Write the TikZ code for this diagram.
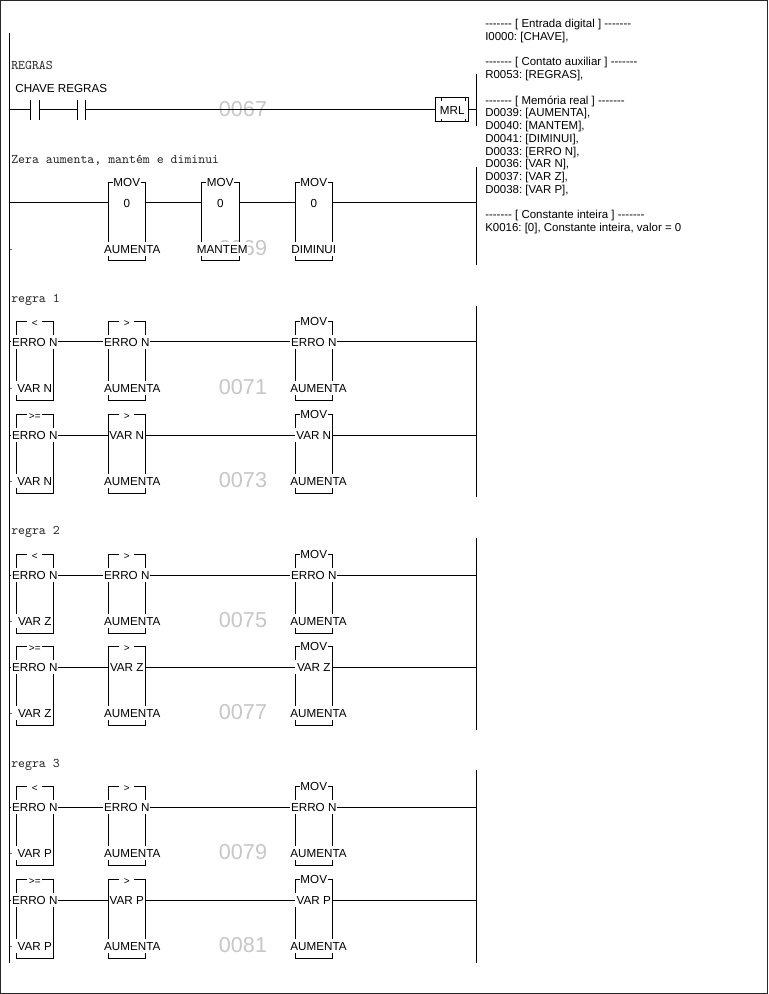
\documentclass[tikz,border=0pt]{standalone}
\usepackage{fontspec}
\setmainfont{Liberation Sans}
\newfontfamily\legendfont{Liberation Sans}
\newfontfamily\ladfont{Latin Modern Mono}
\tikzset{
  x=0.75pt,y=-0.75pt,
  wire/.style={draw=black,line width=0.75pt},
  sidebox/.style={draw=black,line width=0.75pt},
  ladlabel/.style={font=\fontsize{8.75pt}{10pt}\selectfont,inner sep=0pt,text height=8.4pt,text depth=1.2pt},
  vallabel/.style={ladlabel,fill=white,inner xsep=0.4pt,minimum width=27.75pt,minimum height=10.5pt},
  plainval/.style={ladlabel,inner xsep=0pt,minimum width=27.75pt},
  lowlabel/.style={ladlabel,fill=white,inner xsep=0.4pt,minimum height=11pt},
  lowplain/.style={ladlabel,fill=white,inner xsep=0pt,minimum height=11pt},
  cmplabel/.style={font=\fontsize{7.5pt}{8pt}\selectfont,fill=white,inner sep=0pt,minimum width=11.5pt,minimum height=5pt,yshift=-1.6pt},
  movlabel/.style={ladlabel,fill=white,inner xsep=0.4pt,minimum height=8pt,yshift=0.4pt},
  comment/.style={font=\ladfont\fontsize{9.9pt}{11pt}\selectfont,inner sep=0pt,anchor=west,text=black!85,text height=6.5pt,text depth=2pt},
  ghost/.style={font=\fontsize{16.2pt}{18pt}\selectfont,text=black!22,inner sep=0pt},
  legend/.style={font=\legendfont\fontsize{8.6pt}{9.55pt}\selectfont\frenchspacing,inner sep=0pt,anchor=north west,align=left}
}
% #1 name, #2 left x, #3 wire y, #4 title, #5 title style, #6 value, #7 value style, #8 lower label, #9 lower label offset
\newcommand{\ladbox}[9]{%
  \pgfmathsetmacro{\xr}{#2+37.5}
  \pgfmathsetmacro{\xc}{#2+18.75}
  \pgfmathsetmacro{\xl}{#2+18.75+#9}
  \draw[sidebox] (#2,#3-20.5) rectangle (\xr,#3+58);
  \node[#5] (#1t) at (\xc,#3-20.5) {#4};
  \node[#7] (#1v) at (\xc,#3) {#6};
  \node[lowlabel] (#1l) at (\xl,#3+46) {#8};
}
% one rung: id, wire y, comparison, first value, lower label, second value, its style, third value, number
\newcommand{\ladrung}[9]{%
  \coordinate (r#1a) at (9.5,#2);
  \coordinate (r#1b) at (476,#2);
  \coordinate (r#1t) at (9.5,#2+46);
  \coordinate (r#1u) at (12,#2+46);
  \draw[wire,line width=0.5pt,black!60] (r#1t) -- (r#1u);
  \draw[sidebox] (16,#2-20.5) rectangle (53.5,#2+58);
  \node[cmplabel] (r#1xt) at (34.75,#2-20.5) {#3};
  \node[vallabel] (r#1xv) at (34.75,#2) {#4};
  \fill[white] (15,#2+39) rectangle (17,#2+53);
  \node[lowplain] (r#1xl) at (34.75,#2+46) {#5};
  \ladbox{r#1y}{108}{#2}{>}{cmplabel}{#6}{#7}{AUMENTA}{5.5}
  \ladbox{r#1z}{295}{#2}{MOV}{movlabel}{#8}{vallabel}{AUMENTA}{4.75}
  \draw[wire] (r#1a) -- (r#1xv);
  \draw[wire] (r#1xv) -- (r#1yv);
  \draw[wire] (r#1yv) -- (r#1zv);
  \draw[wire] (r#1zv) -- (r#1b);
  \node[ghost] (g#1) at (243,#2+45) {#9};
}
\begin{document}
\begin{tikzpicture}
\useasboundingbox (0,0) rectangle (768,994);
\fill[white] (0,0) rectangle (768,994);
% page frame
\coordinate (pa) at (0.5,0.5);
\coordinate (pb) at (767.5,993.5);
\draw[line width=1pt,black!85] (pa) rectangle (pb);
% ghost numbers below everything else
\node[ghost] (g67) at (243,109) {0067};
\node[ghost] (g69) at (243,248) {0069};
% rails
\coordinate (la) at (9.5,33);
\coordinate (lb) at (9.5,963);
\draw[wire] (la) -- (lb);
\foreach \ya/\yb in {74/126,167/265,306/497,538/730,770/963}{
  \draw[wire] (476,\ya) -- (476,\yb);
}
% comments
\node[comment] (c1) at (11,67) {REGRAS};
\node[comment] (c2) at (11,160.5) {Zera aumenta, mantém e diminui};
\node[comment] (c3) at (11,299.5) {regra 1};
\node[comment] (c4) at (11,531.5) {regra 2};
\node[comment] (c5) at (11,764.5) {regra 3};
% rung 0067
\node[ladlabel] (chave) at (35,88) {CHAVE};
\node[ladlabel] (regras) at (82.5,88) {REGRAS};
\coordinate (w0a) at (9.5,110);
\coordinate (w0b) at (476,110);
\coordinate (k1a) at (30,110);
\coordinate (k1b) at (39,110);
\coordinate (k2a) at (77,110);
\coordinate (k2b) at (85,110);
\draw[wire] (30,100) -- (30,120);
\draw[wire] (39,100) -- (39,120);
\draw[wire] (77,100) -- (77,120);
\draw[wire] (85,100) -- (85,120);
\node[draw=black,line width=0.75pt,minimum width=25pt,minimum height=18pt,inner sep=0pt,font=\fontsize{8.75pt}{10pt}\selectfont] (mrl) at (452.25,110) {MRL};
\foreach \tx in {441,465}{
  \draw[line width=0.6pt] (\tx,98) -- (\tx,101);
  \draw[line width=0.6pt] (\tx,119) -- (\tx,122);
}
\draw[wire] (w0a) -- (k1a);
\draw[wire] (k1b) -- (k2a);
\draw[wire] (k2b) -- (mrl);
\draw[wire] (mrl) -- (w0b);
% rung 0069
\coordinate (w1a) at (9.5,203);
\coordinate (w1b) at (476,203);
\ladbox{m1}{108}{203}{MOV}{movlabel}{0}{plainval}{AUMENTA}{5.5}
\ladbox{m2}{201.5}{203}{MOV}{movlabel}{0}{plainval}{MANTEM}{2}
\ladbox{m3}{295}{203}{MOV}{movlabel}{0}{plainval}{DIMINUI}{0}
\draw[wire] (w1a) -- (m1v);
\draw[wire] (m1v) -- (m2v);
\draw[wire] (m2v) -- (m3v);
\draw[wire] (m3v) -- (w1b);
\coordinate (tk1) at (9.5,249);
\coordinate (tk2) at (12,249);
\draw[wire,line width=0.5pt,black!60] (tk1) -- (tk2);
% rules
\ladrung{71}{342}{<}{ERRO N}{VAR N}{ERRO N}{vallabel}{ERRO N}{0071}
\ladrung{73}{435}{>=}{ERRO N}{VAR N}{VAR N}{plainval}{VAR N}{0073}
\ladrung{75}{575}{<}{ERRO N}{VAR Z}{ERRO N}{vallabel}{ERRO N}{0075}
\ladrung{77}{667}{>=}{ERRO N}{VAR Z}{VAR Z}{plainval}{VAR Z}{0077}
\ladrung{79}{807}{<}{ERRO N}{VAR P}{ERRO N}{vallabel}{ERRO N}{0079}
\ladrung{81}{900}{>=}{ERRO N}{VAR P}{VAR P}{plainval}{VAR P}{0081}
% legend
\node[legend] (leg) at (485,19.2) {------- [ Entrada digital ] -------\\
I0000: [CHAVE],\\
\\
------- [ Contato auxiliar ] -------\\
R0053: [REGRAS],\\
\\
------- [ Memória real ] -------\\
D0039: [AUMENTA],\\
D0040: [MANTEM],\\
D0041: [DIMINUI],\\
D0033: [ERRO N],\\
D0036: [VAR N],\\
D0037: [VAR Z],\\
D0038: [VAR P],\\
\\
------- [ Constante inteira ] -------\\
K0016: [0], Constante inteira, valor = 0};
\end{tikzpicture}
\end{document}
